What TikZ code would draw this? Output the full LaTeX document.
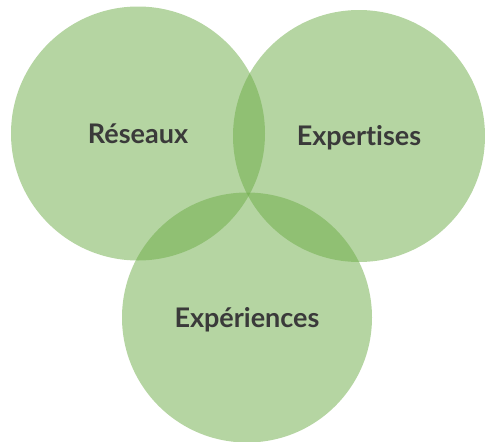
\documentclass[tikz,border=0pt]{standalone}
\usepackage{fontspec}
\setmainfont{Lato}[Ligatures=NoCommon]
\usepackage{xcolor}
\definecolor{leaf}{RGB}{107,171,69}
\definecolor{ink}{RGB}{58,58,58}

\tikzset{
  bubble/.style={circle,fill=leaf,fill opacity=0.5,text opacity=1,draw=none,
    inner sep=0pt,text=ink,font=\fontsize{27}{31}\selectfont\bfseries,
    text height=19pt,text depth=0pt},
}

\begin{document}
\begin{tikzpicture}[x=1pt,y=-1pt]
    \useasboundingbox (0,0) rectangle (485,442);
    \node[bubble,minimum size=254pt] (reseaux) at (138,133.5) {Réseaux};
    \node[bubble,minimum size=252pt] (expertises) at (359,136) {Expertises};
    \node[bubble,minimum size=250pt] (experiences) at (247,317.5) {Expériences};
\end{tikzpicture}
\end{document}
